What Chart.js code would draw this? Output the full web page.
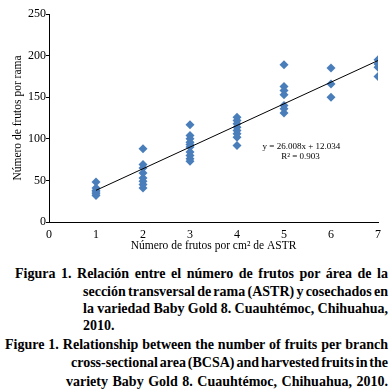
<!DOCTYPE html>
<html>
<head>
<meta charset="utf-8">
<script src="https://cdn.jsdelivr.net/npm/chart.js@4/dist/chart.umd.min.js"></script>
<style>
  html, body { margin: 0; padding: 0; background: #fff; }
  #wrap { position: relative; width: 392px; height: 390px; overflow: hidden; }
  #chartBox { position: absolute; left: 0; top: 0; width: 392px; height: 256px; }
  .cap { position: absolute; white-space: nowrap; font: bold 14px "Liberation Serif", "Times New Roman", serif; line-height: 17px; color: #000; }
</style>
</head>
<body>
<div id="wrap">
  <div id="chartBox"><canvas id="c"></canvas></div>
  <div class="cap" data-l="15" data-r="388" data-c="273">Figura 1. Relación entre el número de frutos por área de la</div>
  <div class="cap" data-l="83" data-r="388" data-c="291">sección transversal de rama (ASTR) y cosechados en</div>
  <div class="cap" data-l="83" data-r="388" data-c="308">la variedad Baby Gold 8. Cuauhtémoc, Chihuahua,</div>
  <div class="cap" data-l="83" data-r="" data-c="325">2010.</div>
  <div class="cap" data-l="5" data-r="388" data-c="344">Figure 1. Relationship between the number of fruits per branch</div>
  <div class="cap" data-l="71" data-r="388" data-c="362">cross-sectional area (BCSA) and harvested fruits in the</div>
  <div class="cap" data-l="66" data-r="388" data-c="381">variety Baby Gold 8. Cuauhtémoc, Chihuahua, 2010.</div>
</div>
<script>
// ---- data ----
const xLevels = [1, 2, 3, 4, 5, 6, 7];
const fruitsAt1 = [48, 41, 38, 36, 34, 32];
const fruitsAt2 = [88, 69, 65, 59, 53, 49, 45, 41];
const fruitsAt3 = [117, 104, 100, 96, 93, 90, 84, 80, 76, 73];
const fruitsAt4 = [126, 122, 118, 114, 110, 106, 102, 92];
const fruitsAt5 = [189, 163, 158, 153, 140, 136, 131];
const fruitsAt6 = [185, 166, 150];
const fruitsAt7 = [195, 190, 186, 175];
const trendX = [1, 7];
const trendY = [38.04, 194.09];
const yTicks = [0, 50, 100, 150, 200, 250];
const xTicks = [0, 1, 2, 3, 4, 5, 6, 7];
const eqText = 'y = 26.008x + 12.034';
const r2Text = 'R\u00B2 = 0.903';
const yTitle = 'Número de frutos por rama';
const xTitle = 'Número de frutos por cm\u00B2 de ASTR';

const groups = [fruitsAt1, fruitsAt2, fruitsAt3, fruitsAt4, fruitsAt5, fruitsAt6, fruitsAt7];
const scatterPts = [];
groups.forEach((vals, i) => vals.forEach(v => scatterPts.push({ x: xLevels[i], y: v })));
const trendPts = trendX.map((x, i) => ({ x, y: trendY[i] }));

const SERIF = '"Liberation Serif", "Times New Roman", serif';

const eqLabel = {
  id: 'eqLabel',
  afterDatasetsDraw(chart) {
    const { ctx, scales: { x, y } } = chart;
    ctx.save();
    ctx.font = '9px ' + SERIF;
    ctx.fillStyle = '#000';
    ctx.textAlign = 'center';
    ctx.textBaseline = 'middle';
    ctx.fillText(eqText, x.getPixelForValue(5.37), y.getPixelForValue(90));
    ctx.fillText(r2Text, x.getPixelForValue(5.35), y.getPixelForValue(78));
    ctx.restore();
  }
};

new Chart(document.getElementById('c'), {
  type: 'scatter',
  data: {
    datasets: [
      {
        type: 'line',
        data: trendPts,
        borderColor: '#000',
        borderWidth: 1,
        pointRadius: 0,
        fill: false
      },
      {
        data: scatterPts,
        pointStyle: 'rectRot',
        pointRadius: 4.5,
        backgroundColor: '#4A7EBB',
        borderColor: '#4A7EBB',
        borderWidth: 0
      }
    ]
  },
  options: {
    responsive: true,
    maintainAspectRatio: false,
    animation: false,
    layout: { padding: { top: 14, right: 14, left: 0, bottom: 0 } },
    plugins: { legend: { display: false }, tooltip: { enabled: false } },
    scales: {
      x: {
        type: 'linear',
        min: 0, max: 7,
        afterBuildTicks: s => { s.ticks = xTicks.map(v => ({ value: v })); },
        afterFit: s => { s.height = 34; },
        grid: { display: false, drawTicks: false },
        border: { display: true, color: '#000', width: 1 },
        ticks: { color: '#000', padding: 6, font: { family: SERIF, size: 12 } },
        title: { display: true, text: xTitle, color: '#000', padding: { top: 0, bottom: 3 }, font: { family: SERIF, size: 11.5 } }
      },
      y: {
        type: 'linear',
        min: 0, max: 250,
        afterBuildTicks: s => { s.ticks = yTicks.map(v => ({ value: v })); },
        afterFit: s => { s.width = 49; },
        grid: { display: true, drawOnChartArea: false, drawTicks: true, tickLength: 3, color: '#000' },
        border: { display: true, color: '#000', width: 1 },
        ticks: { color: '#000', padding: 0, font: { family: SERIF, size: 12 } },
        title: { display: true, text: yTitle, color: '#000', padding: { top: 11, bottom: 0 }, font: { family: SERIF, size: 11.5 } }
      }
    }
  },
  plugins: [eqLabel]
});

// caption lines: fit each justified line between its left and right edges
document.querySelectorAll('.cap').forEach(el => {
  const l = parseFloat(el.dataset.l);
  const c = parseFloat(el.dataset.c);
  el.style.left = l + 'px';
  el.style.top = (c - 8.5) + 'px';
  if (!el.dataset.r) return;
  const target = parseFloat(el.dataset.r) - l;
  const natural = el.getBoundingClientRect().width;
  const text = el.textContent;
  const nSpaces = (text.match(/ /g) || []).length;
  let diff = target - natural;
  const spaceW = 3.5;
  let ws = nSpaces ? diff / nSpaces : 0;
  if (ws < -0.8 * spaceW) {
    ws = -0.8 * spaceW;
    const rest = diff - ws * nSpaces;
    el.style.letterSpacing = (rest / (text.length - 1)) + 'px';
  }
  el.style.wordSpacing = ws + 'px';
});
</script>
</body>
</html>
